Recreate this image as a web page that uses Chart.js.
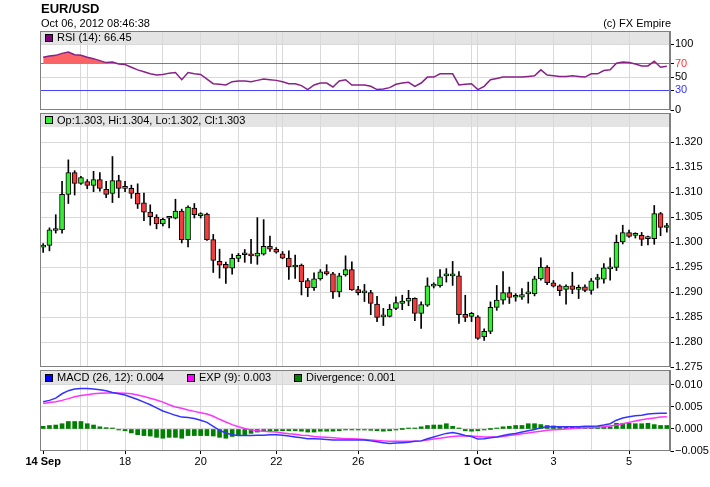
<!DOCTYPE html>
<html><head><meta charset="utf-8">
<script src="https://cdn.jsdelivr.net/npm/chart.js@4.4.0/dist/chart.umd.min.js"></script>
<style>
html,body{margin:0;padding:0;background:#fff;}
#wrap{position:relative;width:710px;height:487px;overflow:hidden;}
canvas{position:absolute;left:0;top:0;}
</style></head><body>
<div id="wrap">
<canvas id="rsiC" width="710" height="487"></canvas>
<canvas id="priceC" width="710" height="487"></canvas>
<canvas id="macdC" width="710" height="487"></canvas>
</div>
<script>
// ---------- DATA (4-hour candles, one per slot) ----------
const titleText = 'EUR/USD';
const dateText = 'Oct 06, 2012 08:46:38';
const creditText = '(c) FX Empire';

const slots = Array.from({length: 100}, (_, i) => i);

const open = [1.29901,1.29934,1.30236,1.30250,1.30960,1.31394,1.31177,1.31217,1.31138,1.31256,
1.31059,1.30980,1.31237,1.31079,1.31079,1.30980,1.30789,1.30605,1.30506,1.30368,
1.30480,1.30480,1.30625,1.30052,1.30684,1.30533,1.30565,1.30052,1.29618,1.29559,
1.29480,1.29677,1.29750,1.29761,1.29722,1.29761,1.29920,1.29860,1.29768,1.29682,
1.29504,1.29544,1.29234,1.29089,1.29267,1.29412,1.29366,1.29004,1.29346,1.29452,
1.29050,1.28984,1.28990,1.28760,1.28503,1.28516,1.28674,1.28773,1.28819,1.28878,
1.28575,1.28740,1.29122,1.29129,1.29326,1.29326,1.29326,1.28555,1.28516,1.28503,
1.28101,1.28213,1.28694,1.28839,1.28990,1.28898,1.28898,1.28964,1.28971,1.29267,
1.29504,1.29188,1.29129,1.29056,1.29129,1.29056,1.29109,1.29037,1.29254,1.29261,
1.29465,1.29498,1.30005,1.30196,1.30137,1.30137,1.30071,1.30071,1.30572,1.30295];
const high = [1.29973,1.30289,1.30552,1.31223,1.31651,1.31434,1.31322,1.31256,1.31421,1.31394,
1.31223,1.31717,1.31342,1.31223,1.31144,1.31171,1.30987,1.30750,1.30552,1.30486,
1.30513,1.30862,1.30664,1.30730,1.30776,1.30592,1.30585,1.30157,1.29861,1.29605,
1.29763,1.29776,1.29855,1.30058,1.30493,1.30453,1.30124,1.29893,1.29814,1.29827,
1.29742,1.29564,1.29274,1.29386,1.29452,1.29551,1.29399,1.29379,1.29728,1.29610,
1.29116,1.29155,1.29037,1.28918,1.28674,1.28753,1.28905,1.28938,1.29037,1.28885,
1.28806,1.29287,1.29188,1.29452,1.29472,1.29616,1.29412,1.28938,1.28595,1.28529,
1.28266,1.28806,1.29135,1.29412,1.29102,1.28971,1.29069,1.29201,1.29320,1.29689,
1.29531,1.29234,1.29148,1.29148,1.29399,1.29142,1.29148,1.29274,1.29359,1.29570,
1.29689,1.30144,1.30341,1.30243,1.30190,1.30196,1.30124,1.30737,1.30598,1.30381];
const low = [1.29795,1.29828,1.30184,1.30184,1.30776,1.30947,1.31158,1.31072,1.31013,1.31026,
1.30894,1.30796,1.30894,1.31013,1.30881,1.30677,1.30434,1.30342,1.30269,1.30329,
1.30289,1.30467,1.29986,1.29907,1.30486,1.30486,1.30039,1.29394,1.29282,1.29177,
1.29361,1.29611,1.29598,1.29577,1.29557,1.29742,1.29814,1.29781,1.29669,1.29254,
1.29274,1.28944,1.28911,1.29037,1.29241,1.29340,1.28872,1.28905,1.29320,1.29037,
1.28944,1.28812,1.28549,1.28410,1.28331,1.28503,1.28648,1.28648,1.28727,1.28430,
1.28272,1.28714,1.29083,1.29102,1.29201,1.29135,1.28371,1.28410,1.28410,1.28055,
1.28035,1.28167,1.28635,1.28760,1.28773,1.28819,1.28852,1.28780,1.28925,1.29241,
1.29148,1.29102,1.28931,1.28760,1.28971,1.28872,1.29010,1.28958,1.29083,1.29181,
1.29241,1.29432,1.29966,1.30098,1.30084,1.29933,1.29946,1.29959,1.30130,1.30203];
const close = [1.29940,1.30250,1.30236,1.30960,1.31394,1.31177,1.31296,1.31138,1.31256,1.31079,
1.30960,1.31237,1.31079,1.31079,1.30980,1.30763,1.30605,1.30513,1.30368,1.30460,
1.30480,1.30625,1.30052,1.30704,1.30552,1.30572,1.30052,1.29638,1.29539,1.29480,
1.29677,1.29736,1.29750,1.29728,1.29781,1.29920,1.29860,1.29801,1.29682,1.29504,
1.29544,1.29208,1.29089,1.29267,1.29406,1.29366,1.29004,1.29326,1.29452,1.29050,
1.28990,1.28984,1.28773,1.28496,1.28542,1.28661,1.28793,1.28819,1.28878,1.28575,
1.28753,1.29129,1.29122,1.29307,1.29326,1.29326,1.28549,1.28496,1.28575,1.28074,
1.28213,1.28694,1.28839,1.28990,1.28892,1.28898,1.28951,1.28964,1.29267,1.29504,
1.29188,1.29122,1.29030,1.29122,1.29056,1.29089,1.29037,1.29228,1.29254,1.29485,
1.29498,1.29999,1.30196,1.30117,1.30137,1.30058,1.30071,1.30572,1.30295,1.30335];

const rsi = [80,82,83,86,88,84,83,80,78,75,
72,73,70,69,65,61,58,55,53,54,
56,57,46,57,55,54,47,40,39,38,
43,44,44,43,45,47,46,45,43,40,
40,37,31,38,41,41,35,44,46,38,
38,38,36,31,32,34,39,41,42,36,
41,50,50,55,55,55,38,39,40,31,
36,46,48,50,50,50,50,51,52,61,
53,52,51,51,52,51,50,55,55,60,
61,71,73,72,70,67,67,74,65,66.45];

const macd = [0.0062,0.0065,0.0070,0.0080,0.0087,0.0091,0.0092,0.0092,0.0091,0.0089,
0.0087,0.0083,0.0080,0.0077,0.0072,0.0067,0.0061,0.0055,0.0048,0.0041,
0.0036,0.0031,0.0027,0.0026,0.0024,0.0020,0.0015,0.0006,-0.0003,-0.0009,
-0.0013,-0.0015,-0.0015,-0.0015,-0.0014,-0.0014,-0.0013,-0.0013,-0.0014,-0.0016,
-0.0018,-0.0020,-0.0022,-0.0022,-0.0023,-0.0024,-0.0025,-0.0025,-0.0025,-0.0025,
-0.0025,-0.0025,-0.0027,-0.0029,-0.0031,-0.0033,-0.0032,-0.0031,-0.0030,-0.0028,
-0.0027,-0.0022,-0.0018,-0.0014,-0.0010,-0.0008,-0.0011,-0.0015,-0.0017,-0.0023,
-0.0022,-0.0020,-0.0018,-0.0015,-0.0012,-0.0010,-0.0007,-0.0004,-0.0001,0.0003,
0.0005,0.0005,0.0005,0.0005,0.0005,0.0005,0.0006,0.0006,0.0007,0.0009,
0.0012,0.0020,0.0025,0.0028,0.0030,0.0031,0.0034,0.0035,0.0036,0.0036];

const expSignal = [0.0058,0.0060,0.0062,0.0065,0.0069,0.0073,0.0076,0.0078,0.0080,0.0081,
0.0082,0.0082,0.0082,0.0081,0.0080,0.0077,0.0074,0.0070,0.0066,0.0061,
0.0055,0.0050,0.0047,0.0043,0.0040,0.0037,0.0034,0.0029,0.0022,0.0016,
0.0010,0.0005,0.0001,-0.0002,-0.0004,-0.0005,-0.0006,-0.0007,-0.0009,-0.0011,
-0.0012,-0.0014,-0.0015,-0.0017,-0.0018,-0.0019,-0.0020,-0.0021,-0.0022,-0.0022,
-0.0023,-0.0024,-0.0025,-0.0026,-0.0027,-0.0028,-0.0028,-0.0028,-0.0028,-0.0028,
-0.0027,-0.0025,-0.0023,-0.0021,-0.0019,-0.0017,-0.0016,-0.0016,-0.0016,-0.0017,
-0.0018,-0.0018,-0.0018,-0.0017,-0.0015,-0.0013,-0.0011,-0.0009,-0.0007,-0.0005,
-0.0003,-0.0002,-0.0001,0.0000,0.0001,0.0002,0.0003,0.0003,0.0004,0.0005,
0.0007,0.0009,0.0012,0.0015,0.0018,0.0021,0.0023,0.0025,0.0027,0.0028];

const divergence = [0.0006,0.0008,0.0009,0.0012,0.0017,0.0017,0.0017,0.0012,0.0009,0.0005,
0.0003,0.0001,-0.0001,-0.0004,-0.0009,-0.0013,-0.0015,-0.0016,-0.0019,-0.0021,
-0.0019,-0.0019,-0.0021,-0.0015,-0.0015,-0.0015,-0.0015,-0.0016,-0.0019,-0.0021,
-0.0017,-0.0015,-0.0013,-0.0010,-0.0007,-0.0005,-0.0004,-0.0004,-0.0004,-0.0004,
-0.0004,-0.0005,-0.0007,-0.0007,-0.0005,-0.0005,-0.0005,-0.0004,-0.0002,-0.0001,
-0.0001,-0.0002,-0.0003,-0.0004,-0.0005,-0.0004,-0.0002,0.0000,0.0001,0.0002,
0.0005,0.0008,0.0009,0.0009,0.0012,0.0006,0.0001,-0.0004,-0.0005,-0.0004,
-0.0001,0.0000,0.0002,0.0005,0.0006,0.0008,0.0008,0.0012,0.0012,0.0010,
0.0008,0.0007,0.0005,0.0005,0.0004,0.0004,0.0004,0.0005,0.0005,0.0005,
0.0005,0.0013,0.0013,0.0013,0.0012,0.0012,0.0013,0.0010,0.0008,0.0008];

// x axis: day separator slots, labelled slots and labels
const dayLines = [6,7,13,19,25,31,37,38,44,50,56,62,68,69,75,81,87,93];
const xLabelSlots = [0,13,25,37,50,69,81,93];
const xLabels = ['14 Sep','18','20','22','26','1 Oct','3','5'];
const boldLabels = ['14 Sep','1 Oct'];

const rsiTicks = [0,30,50,70,100];
const priceTicks = [1.275,1.280,1.285,1.290,1.295,1.300,1.305,1.310,1.315,1.320];
const macdTicks = [-0.005,0,0.005,0.010];

// ---------- STYLE ----------
const FONT = '"Liberation Sans", Arial, Helvetica, sans-serif';
const GRID = '#d9d9d9';
const BAND = '#e4e4e4';
const CLEAR = 'rgba(0,0,0,0)';
const UP = '#33ee33', DOWN = '#f33c3c';

function xScale(showLabels){
  return {
    type:'category', offset:true,
    grid:{ offset:false, lineWidth:1,
      color: c => dayLines.includes(c.index) ? GRID : CLEAR,
      drawTicks: showLabels, tickLength:3,
      tickColor: c => xLabelSlots.includes(c.index) ? '#000' : CLEAR },
    border:{ display:false },
    ticks:{ display: showLabels, autoSkip:false, maxRotation:0, minRotation:0, padding:1, color:'#000',
      font: c => ({ family:FONT, size:11, weight: (xLabelSlots.indexOf(c.index) >= 0 && boldLabels.includes(xLabels[xLabelSlots.indexOf(c.index)])) ? 'bold' : 'normal' }),
      callback: (v, i) => { const k = xLabelSlots.indexOf(i); return k >= 0 ? xLabels[k] : ''; } },
    afterFit: s => { s.height = showLabels ? 36 : 0; }
  };
}
function yScale(min, max, ticksArr, fmt, gridColor, labelColor){
  return {
    position:'right', min, max,
    afterBuildTicks: s => { s.ticks = ticksArr.map(v => ({ value: v })); },
    afterFit: s => { s.width = 40; },
    grid:{ color: gridColor, lineWidth:1, drawTicks:true, tickLength:4, tickColor:'#000' },
    border:{ display:true, color:'#808080' },
    ticks:{ padding:1, color: labelColor || '#000', font:{ family:FONT, size:11 }, callback: v => fmt(v) }
  };
}
function panelPlugin(name, band, items){
  return {
    id:'panel_'+name,
    beforeDraw(chart){
      const {ctx, chartArea:a} = chart;
      ctx.save(); ctx.fillStyle = BAND; ctx.fillRect(a.left, a.top, a.right - a.left, band); ctx.restore();
    },
    afterDraw(chart){
      const {ctx, chartArea:a} = chart;
      ctx.save();
      ctx.strokeStyle = '#808080'; ctx.lineWidth = 1;
      ctx.strokeRect(a.left + 0.5, a.top + 0.5, a.right - a.left - 1, a.bottom - a.top - 1);
      const cy = a.top + band / 2;
      const sy = Math.round(cy - 4);
      ctx.font = '11px ' + FONT; ctx.textBaseline = 'middle'; ctx.textAlign = 'left';
      items.forEach(it => {
        ctx.fillStyle = it.color; ctx.fillRect(it.x, sy, 8, 8);
        ctx.strokeStyle = '#000'; ctx.strokeRect(it.x + 0.5, sy + 0.5, 7, 7);
        ctx.fillStyle = '#000'; ctx.fillText(it.text, it.x + 12, cy + 0.5);
      });
      ctx.restore();
    }
  };
}
const titlePlugin = {
  id:'titles',
  afterDraw(chart){
    const ctx = chart.ctx;
    ctx.save();
    ctx.fillStyle = '#000'; ctx.textBaseline = 'alphabetic'; ctx.textAlign = 'left';
    ctx.font = 'bold 13px ' + FONT; ctx.fillText(titleText, 41, 13);
    ctx.font = '11px ' + FONT; ctx.fillText(dateText, 41, 27);
    ctx.textAlign = 'right'; ctx.fillText(creditText, 671, 27);
    ctx.restore();
  }
};
const baseOpts = (padding) => ({
  responsive:false, animation:false, devicePixelRatio:1,
  layout:{ padding },
  plugins:{ legend:{ display:false }, tooltip:{ enabled:false } }
});

// ---------- RSI ----------
const last = slots.length - 1;
new Chart(document.getElementById('rsiC'), {
  type:'line',
  data:{ labels: slots, datasets:[{
    data: rsi, borderColor:'#882288', borderWidth:1.5, pointRadius:0, tension:0,
    fill:{ target:{ value:70 }, above:'#fa6464', below:CLEAR } }] },
  options: Object.assign(baseOpts({ left:40, top:31, right:0, bottom:377 }), {
    scales:{
      x: xScale(false),
      y: yScale(0, 120, rsiTicks, v => String(v),
        c => ({70:'#ff4444', 30:'#4444ff', 50:GRID, 100:GRID})[c.tick.value] || CLEAR,
        c => c.tick.value === 70 ? '#ff3333' : (c.tick.value === 30 ? '#3333ff' : '#000'))
    }
  }),
  plugins:[ panelPlugin('rsi', 13, [{ x:45, color:'#800080', text:'RSI (14): ' + rsi[last].toFixed(2) }]), titlePlugin ]
});

// ---------- PRICE (candles) ----------
const candleColors = open.map((o, i) => close[i] >= o ? UP : DOWN);
const fmt3 = v => v.toFixed(3);
new Chart(document.getElementById('priceC'), {
  type:'bar',
  data:{ labels: slots, datasets:[
    { data: open.map((o, i) => [o, close[i]]), backgroundColor: candleColors, borderColor:'#000',
      borderWidth:1, borderSkipped:false, barThickness:5, minBarLength:2, grouped:false, order:0 },
    { data: low.map((l, i) => [l, high[i]]), backgroundColor:'#000', borderWidth:0,
      barThickness:1, grouped:false, order:1 }
  ]},
  options: Object.assign(baseOpts({ left:40, top:113, right:0, bottom:120 }), {
    scales:{
      x: xScale(false),
      y: yScale(1.275, 1.3259, priceTicks, fmt3, c => c.tick.value <= 1.2751 ? CLEAR : GRID)
    }
  }),
  plugins:[ panelPlugin('price', 14, [{ x:45, color:UP,
    text:'Op:' + fmt3(open[last]) + ', Hi:' + fmt3(high[last]) + ', Lo:' + fmt3(low[last]) + ', Cl:' + fmt3(close[last]) }]) ]
});

// ---------- MACD ----------
const fmtM = v => (v < 0 ? '\u2212' + Math.abs(v).toFixed(3) : Math.abs(v).toFixed(3));
new Chart(document.getElementById('macdC'), {
  type:'bar',
  data:{ labels: slots, datasets:[
    { type:'line', data: macd, borderColor:'#3333ff', borderWidth:1.5, pointRadius:0, tension:0, order:0 },
    { type:'line', data: expSignal, borderColor:'#ff33ff', borderWidth:1.5, pointRadius:0, tension:0, order:1 },
    { type:'bar', data: divergence, backgroundColor:'#008000', barThickness:4, minBarLength:1, order:2 }
  ]},
  options: Object.assign(baseOpts({ left:40, top:370, right:0, bottom:0 }), {
    scales:{
      x: xScale(true),
      y: yScale(-0.005, 0.0134, macdTicks, fmtM, c => c.tick.value < -0.004 ? CLEAR : GRID)
    }
  }),
  plugins:[ panelPlugin('macd', 15, [
    { x:45, color:'#0000ff', text:'MACD (26, 12): ' + macd[last].toFixed(3) },
    { x:187, color:'#ff00ff', text:'EXP (9): ' + expSignal[last].toFixed(3) },
    { x:294, color:'#008000', text:'Divergence: ' + divergence[last].toFixed(3) }
  ]) ]
});
</script>
</body></html>
